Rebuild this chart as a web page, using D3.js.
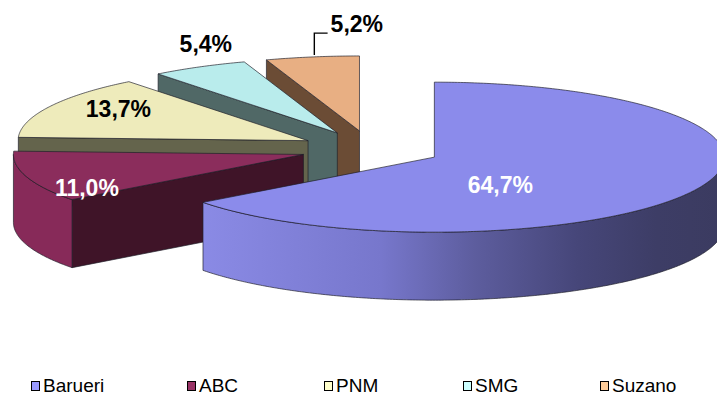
<!DOCTYPE html>
<html>
<head>
<meta charset="utf-8">
<script src="https://cdn.jsdelivr.net/npm/d3@7"></script>
<style>
  body { margin: 0; background: #fff; }
  svg { display: block; }
  text { font-family: "Liberation Sans", Arial, Helvetica, sans-serif; }
</style>
</head>
<body>
<svg id="chart" width="717" height="397"></svg>
<script>
// Share of each region (%)
const categories = ["Barueri", "ABC", "PNM", "SMG", "Suzano"];
const shares = [64.7, 11.0, 13.7, 5.4, 5.2];

// Colours: legend swatch, lit top surface, radial cut face, outer wall
const swatchColors = ["#9999FF", "#993366", "#FFFFCC", "#CCFFFF", "#FFCC99"];
const topColors    = ["#8B8BEB", "#8B2D5C", "#EEEBBB", "#B9ECEC", "#E8AF83"];
const faceColors   = ["#3E3E66", "#3F1428", "#64644C", "#506866", "#6B4C35"];
const wallColors   = ["url(#wallBarueri)", "#872A59", "#D8D6A8", "#A8D8D8", "#D09C74"];
const labelColors  = ["#ffffff", "#ffffff", "#000000", "#000000", "#000000"];

// Label placement: fraction of the radius along the mid-angle, plus a nudge
const labelRadius = [0.254, 0.782, 0.735, 0.952, 1.0];
const labelNudge  = [[0, 27.5], [0, 24.3], [0, 1.7], [0, -18], [44.5, -24.8]];
const leaderFor   = [false, false, false, false, true];

// Legend layout
const legendX = [31, 187, 324, 463, 600];

// 3-D pie geometry (projected ellipse, wall depth, explosion as fraction of radius)
const G = { cx: 371, cy: 149, rx: 290, ry: 75, depth: 68, explode: 0.244 };

const fmt = d3.formatLocale({ decimal: ",", thousands: ".", grouping: [3], currency: ["", ""] }).format(".1f");

const svg = d3.select("#chart");
const defs = svg.append("defs");
const grad = defs.append("linearGradient")
  .attr("id", "wallBarueri")
  .attr("gradientUnits", "userSpaceOnUse")
  .attr("x1", 204).attr("y1", 0).attr("x2", 724).attr("y2", 0);
[[0, "#8A8AE5"], [0.34, "#7777CC"], [0.52, "#5D5D9E"], [0.72, "#464679"], [0.87, "#3D3D66"], [1, "#3B3B60"]]
  .forEach(([o, c]) => grad.append("stop").attr("offset", o).attr("stop-color", c));

const arcs = d3.pie().sort(null).value(d => d)(shares);

const slices = arcs.map((p, i) => {
  const mid = (p.startAngle + p.endAngle) / 2;
  return {
    ...p, i, mid,
    ox: G.cx + G.explode * G.rx * Math.sin(mid),
    oy: G.cy - G.explode * G.ry * Math.cos(mid)
  };
});

function pt(s, a, r, z) {
  return [s.ox + G.rx * r * Math.sin(a), s.oy - G.ry * r * Math.cos(a) + z];
}
function rim(s, a0, a1, z) {
  const n = Math.max(2, Math.ceil(Math.abs(a1 - a0) / 0.01));
  return d3.range(n + 1).map(k => pt(s, a0 + (a1 - a0) * k / n, 1, z));
}
const line = d3.line();
const closed = pts => line(pts) + "Z";

const edge = { stroke: "#1e1e28", "stroke-width": 0.9, "stroke-opacity": 0.75, "stroke-linejoin": "round" };
function styled(sel, fill) {
  sel.attr("fill", fill);
  Object.entries(edge).forEach(([k, v]) => sel.attr(k, v));
  return sel;
}

const pieG = svg.append("g");
// paint from the back slice to the front one
slices.slice().sort((a, b) => a.oy - b.oy).forEach(s => {
  const g = pieG.append("g");
  const a0 = s.startAngle, a1 = s.endAngle, D = G.depth;
  // radial cut faces that turn toward the viewer
  if (Math.sin(a0) < -1e-6) {
    styled(g.append("path").attr("d", closed([pt(s, a0, 0, 0), pt(s, a0, 1, 0), pt(s, a0, 1, D), pt(s, a0, 0, D)])), faceColors[s.i]);
  }
  if (Math.sin(a1) > 1e-6) {
    styled(g.append("path").attr("d", closed([pt(s, a1, 0, 0), pt(s, a1, 1, 0), pt(s, a1, 1, D), pt(s, a1, 0, D)])), faceColors[s.i]);
  }
  // curved outer wall on the front half
  const w0 = Math.max(a0, Math.PI / 2), w1 = Math.min(a1, 3 * Math.PI / 2);
  if (w1 > w0) {
    styled(g.append("path").attr("d", closed(rim(s, w0, w1, 0).concat(rim(s, w0, w1, D).reverse()))), wallColors[s.i]);
  }
  // top surface
  styled(g.append("path").attr("d", closed([pt(s, a0, 0, 0)].concat(rim(s, a0, a1, 0)))), topColors[s.i]);
});

// value labels
slices.forEach(s => {
  const base = pt(s, s.mid, labelRadius[s.i], 0);
  const x = base[0] + labelNudge[s.i][0];
  const y = base[1] + labelNudge[s.i][1];
  const t = svg.append("text")
    .attr("x", x).attr("y", y)
    .attr("text-anchor", "middle")
    .attr("font-size", 23)
    .attr("font-weight", "bold")
    .attr("fill", labelColors[s.i])
    .text(fmt(s.data) + "%");
  if (leaderFor[s.i]) {
    const w = t.node().getComputedTextLength();
    const r = pt(s, s.mid, 1, 0);
    const lx = r[0] + 2;
    svg.append("path")
      .attr("d", line([[lx, r[1] - 2], [lx, y + 1], [x - w / 2 - 3, y + 1]]))
      .attr("fill", "none").attr("stroke", "#000").attr("stroke-width", 1.4);
  }
});

// legend
const leg = svg.append("g");
categories.forEach((c, i) => {
  leg.append("rect")
    .attr("x", legendX[i] + 0.5).attr("y", 381.5)
    .attr("width", 8).attr("height", 9)
    .attr("fill", swatchColors[i])
    .attr("stroke", "#000").attr("stroke-width", 1);
  leg.append("text")
    .attr("x", legendX[i] + 12).attr("y", 392)
    .attr("font-size", 19)
    .attr("fill", "#000")
    .text(c);
});
</script>
</body>
</html>
